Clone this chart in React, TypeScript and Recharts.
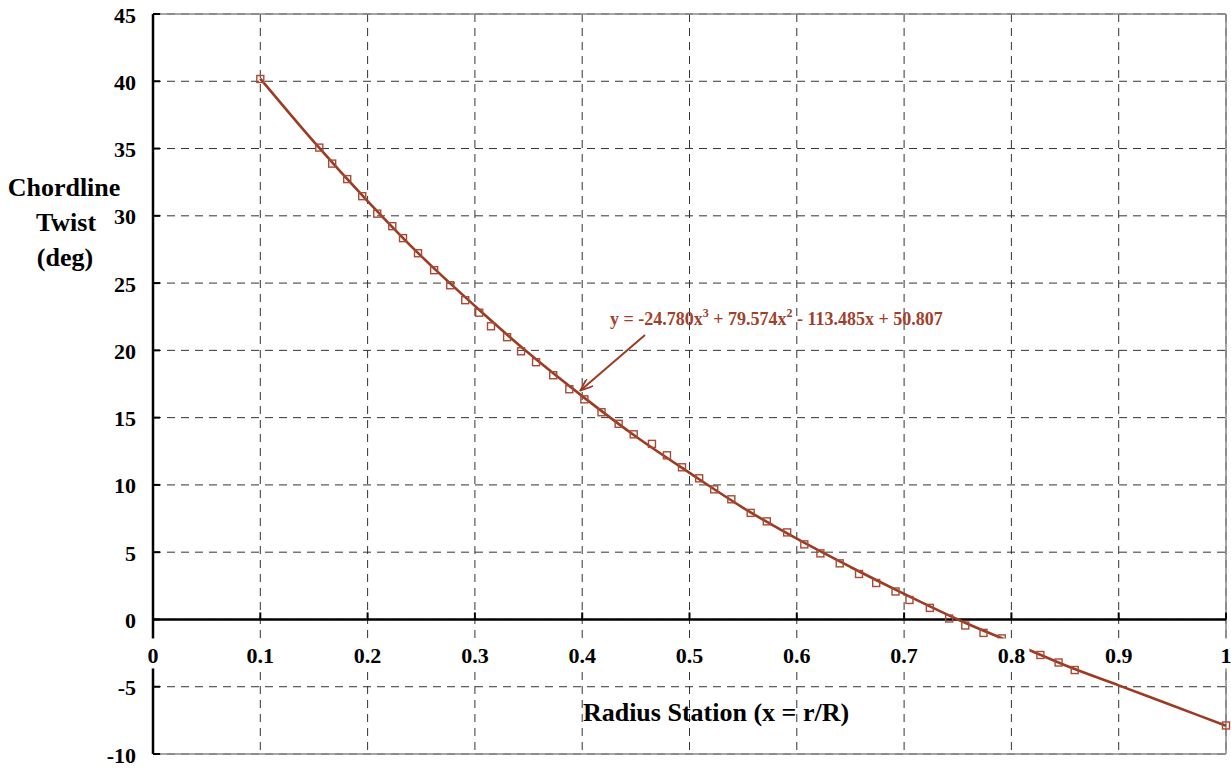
import { CartesianGrid, ComposedChart, Line, ReferenceLine, Scatter, XAxis, YAxis } from 'recharts';

// measured twist at each radius station
const radius = [
  0.1, 0.155, 0.167, 0.181, 0.195, 0.209, 0.223, 0.233, 0.247, 0.262, 0.277, 0.291, 0.304, 0.315, 0.33, 0.343,
  0.357, 0.373, 0.388, 0.402, 0.418, 0.434, 0.448, 0.465, 0.479, 0.493, 0.509, 0.523, 0.539, 0.557, 0.572, 0.591,
  0.607, 0.622, 0.64, 0.658, 0.674, 0.692, 0.705, 0.724, 0.742, 0.757, 0.774, 0.791, 0.827, 0.844, 0.859, 1.0,
];
const twist = [
  40.17, 35.07, 33.88, 32.73, 31.46, 30.16, 29.23, 28.34, 27.22, 25.96, 24.84, 23.73, 22.8, 21.79, 20.98, 19.93,
  19.12, 18.15, 17.11, 16.36, 15.4, 14.54, 13.76, 13.05, 12.2, 11.31, 10.49, 9.67, 8.93, 7.92, 7.29, 6.47,
  5.58, 4.91, 4.17, 3.38, 2.71, 2.08, 1.45, 0.86, 0.07, -0.45, -1.0, -1.41, -2.64, -3.2, -3.76, -7.88,
];

// trend line
const trendRadius = [0.1, 0.15, 0.2, 0.25, 0.3, 0.35, 0.4, 0.45, 0.5, 0.55, 0.6, 0.65, 0.7, 0.75, 0.8, 0.85, 0.9, 0.95, 1.0];
const trendTwist = [40.2, 35.5, 31.1, 27.0, 23.3, 19.8, 16.6, 13.6, 10.9, 8.3, 6.0, 3.9, 1.9, 0.0, -1.7, -3.4, -4.9, -6.4, -7.9];

const xTicks = [0, 0.1, 0.2, 0.3, 0.4, 0.5, 0.6, 0.7, 0.8, 0.9, 1];
const xTickLabels = ['0', '0.1', '0.2', '0.3', '0.4', '0.5', '0.6', '0.7', '0.8', '0.9', '1'];
const yTicks = [-10, -5, 0, 5, 10, 15, 20, 25, 30, 35, 40, 45];

const points = radius.map((x, i) => ({ x, y: twist[i] }));
const trend = trendRadius.map((x, i) => ({ x, y: trendTwist[i] }));

const W = 1231;
const H = 770;
const PLOT_LEFT = 153;
const PLOT_TOP = 14;
const PLOT_BOTTOM = 754;
const ZERO_Y = PLOT_TOP + ((PLOT_BOTTOM - PLOT_TOP) * 45) / 55;
const FONT = '"Liberation Serif", "Times New Roman", serif';
const RED = '#9C3A22';

function XTick(props: any) {
  const { x, index } = props;
  const label = xTickLabels[index] ?? '';
  const w = label.length * 10 + 6;
  return (
    <g>
      <line x1={x} x2={x} y1={ZERO_Y} y2={ZERO_Y - 7} stroke="#000" strokeWidth={2} />
      <rect x={x - w / 2} y={ZERO_Y + 19} width={w} height={30} fill="#fff" />
      <text x={x} y={ZERO_Y + 36} textAnchor="middle" dominantBaseline="central" fontFamily={FONT} fontWeight="bold" fontSize={22} fill="#000">
        {label}
      </text>
    </g>
  );
}

function YTick(props: any) {
  const { y, payload } = props;
  return (
    <g>
      <line x1={PLOT_LEFT} x2={PLOT_LEFT + 7} y1={y} y2={y} stroke="#000" strokeWidth={2} />
      <text x={PLOT_LEFT - 17} y={y + 1} textAnchor="end" dominantBaseline="central" fontFamily={FONT} fontWeight="bold" fontSize={22} fill="#000">
        {payload.value}
      </text>
    </g>
  );
}

function Square(props: any) {
  const { cx, cy } = props;
  return <rect x={cx - 3.5} y={cy - 3.5} width={7} height={7} fill="none" stroke="#A84A36" strokeWidth={1.4} />;
}

export default function App() {
  return (
    <div style={{ position: 'absolute', left: 0, top: 0, width: W, height: H, background: '#fff' }}>
      <ComposedChart width={W} height={H} margin={{ top: PLOT_TOP, right: 5, bottom: H - PLOT_BOTTOM - 1, left: 0 }}>
        <defs>
          <marker id="arrowHead" markerWidth="14" markerHeight="10" refX="12" refY="5" orient="auto" markerUnits="userSpaceOnUse">
            <path d="M0,0 L13,5 L0,10" fill="none" stroke={RED} strokeWidth={1.8} />
          </marker>
        </defs>
        <CartesianGrid stroke="#333" strokeDasharray="8 6" />
        <XAxis
          dataKey="x"
          type="number"
          domain={[0, 1]}
          ticks={xTicks}
          height={1}
          axisLine={false}
          tickLine={false}
          tick={(p: any) => <XTick {...p} />}
          interval={0}
        />
        <YAxis
          type="number"
          domain={[-10, 45]}
          ticks={yTicks}
          width={PLOT_LEFT}
          axisLine={{ stroke: '#000', strokeWidth: 2.5 }}
          tickLine={false}
          tick={(p: any) => <YTick {...p} />}
          interval={0}
        />
        <ReferenceLine y={45} stroke="#888" strokeWidth={1.5} />
        <ReferenceLine y={-10} stroke="#888" strokeWidth={1.5} />
        <ReferenceLine x={1} stroke="#888" strokeWidth={1.5} />
        <ReferenceLine y={0} stroke="#000" strokeWidth={2.5} />
        <Line data={trend} dataKey="y" type="monotone" stroke={RED} strokeWidth={2.6} dot={false} isAnimationActive={false} />
        <Scatter data={points} dataKey="y" shape={(p: any) => <Square {...p} />} isAnimationActive={false} />
        <line x1={645} y1={335} x2={581} y2={390} stroke={RED} strokeWidth={2} markerEnd="url(#arrowHead)" />
        <text x={610} y={325} fontFamily={FONT} fontWeight="bold" fontSize={18} fill="#A0402A">
          <tspan>y = -24.780x</tspan>
          <tspan dy={-8} fontSize={12}>3</tspan>
          <tspan dy={8}> + 79.574x</tspan>
          <tspan dy={-8} fontSize={12}>2</tspan>
          <tspan dy={8}> - 113.485x + 50.807</tspan>
        </text>
        <text x={716} y={712} textAnchor="middle" dominantBaseline="central" fontFamily={FONT} fontWeight="bold" fontSize={26} fill="#000">
          Radius Station (x = r/R)
        </text>
        <text textAnchor="middle" fontFamily={FONT} fontWeight="bold" fontSize={26} fill="#000">
          <tspan x={64} y={196}>Chordline</tspan>
          <tspan x={66} y={231}>Twist</tspan>
          <tspan x={65} y={266}>(deg)</tspan>
        </text>
      </ComposedChart>
    </div>
  );
}
